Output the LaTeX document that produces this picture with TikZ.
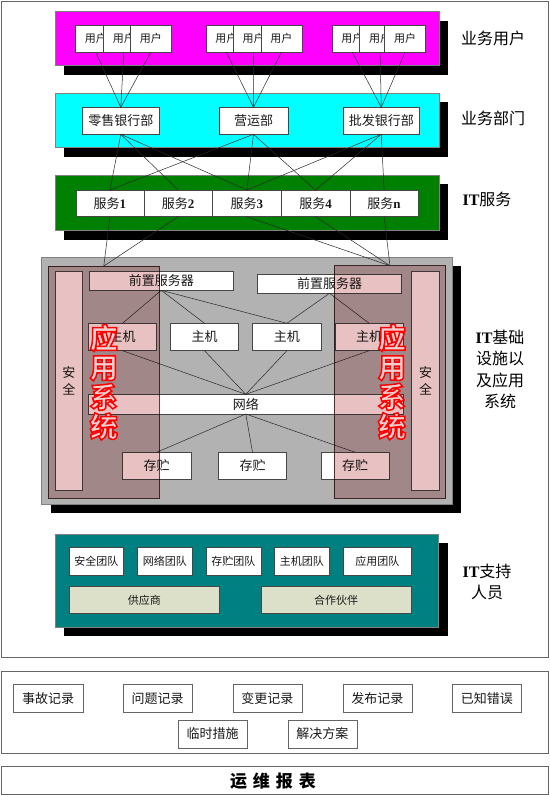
\documentclass[tikz,border=0pt]{standalone}
\usepackage{fontspec}
\setmainfont{Liberation Serif}
\newfontfamily\cjk{Noto Sans CJK SC}
\usetikzlibrary{calc}

\definecolor{bandmag}{RGB}{255,0,255}
\definecolor{bandcyan}{RGB}{0,255,255}
\definecolor{bandgreen}{RGB}{0,128,0}
\definecolor{infragray}{RGB}{178,178,178}
\definecolor{bandteal}{RGB}{0,128,128}
\definecolor{vendorfill}{RGB}{221,224,200}
\definecolor{roseveil}{RGB}{232,194,194}
\definecolor{veiledge}{RGB}{90,60,60}
\definecolor{boxedge}{RGB}{70,70,70}
\definecolor{bandedge}{RGB}{128,128,128}
\definecolor{framegray}{RGB}{100,100,100}
\definecolor{wire}{RGB}{40,40,40}

% box given by its corners: style, name, x1, y1, x2, y2, text
\newcommand{\rbox}[7]{\node[#1, minimum width={(#5)-(#3)}, minimum height={(#6)-(#4)}] (#2) at ({((#3)+(#5))/2},{((#4)+(#6))/2}) {#7};}
% coloured band with a black drop shadow: x1, y1, x2, y2, colour
\newcommand{\band}[5]{%
  \fill[black] ({#1+9},{#2+9}) rectangle ({#3+9},{#4+9});
  \filldraw[draw=bandedge, line width=0.6pt, fill=#5] (#1,#2) rectangle (#3,#4);}
% glyphs filled light pink and stroked with a red outline
\newcommand{\outlinedtext}[1]{\special{pdf:literal direct 2 Tr 1.5 w 1 0 0 RG 0.94 0.82 0.82 rg}#1\special{pdf:literal direct 0 Tr}}

\tikzset{
  wire/.style={draw=wire, line width=0.5pt},
  boxbase/.style={draw=boxedge, line width=0.6pt, fill=white, inner sep=0pt, outer sep=0pt,
    text=black!90, font=\cjk\fontsize{13}{15}\selectfont},
  ubox/.style={boxbase, font=\cjk\fontsize{11}{13}\selectfont},
  vbox/.style={boxbase, align=center, font=\cjk\fontsize{13}{17}\selectfont},
  tbox/.style={boxbase, font=\cjk\fontsize{11}{13}\selectfont},
  pbox/.style={tbox, fill=vendorfill},
  recbox/.style={boxbase, draw=framegray},
  sidelabel/.style={font=\cjk\fontsize{16}{21.5}\selectfont, align=center, inner sep=0pt},
  veil/.style={fill=roseveil, draw=veiledge, line width=0.7pt, inner sep=0pt, outer sep=0pt},
  appword/.style={font=\cjk\bfseries\fontsize{28}{29.5}\selectfont, align=center, inner sep=0pt, text=red},
  frame/.style={draw=framegray, line width=0.9pt},
}

\begin{document}
\begin{tikzpicture}[x=1pt,y=-1pt]
\useasboundingbox (0,0) rectangle (549,795);
\fill[white] (0,0) rectangle (549,795);

% outer frames
\draw[frame] (1,1) rectangle (548,657);
\draw[frame] (1,671) rectangle (548,753.3);
\draw[frame] (1,766.7) rectangle (548,794);

% ---------- business users ----------
\band{55}{11.7}{439}{65.7}{bandmag}
\rbox{ubox}{u1a}{75.3}{25}{116.3}{52.3}{用户}
\rbox{ubox}{u1b}{103.3}{25}{144.3}{52.3}{用户}
\rbox{ubox}{u1c}{130.3}{25}{171.3}{52.3}{用户}
\rbox{ubox}{u2a}{205.9}{25}{246.9}{52.3}{用户}
\rbox{ubox}{u2b}{233.2}{25}{274.2}{52.3}{用户}
\rbox{ubox}{u2c}{260.9}{25}{301.9}{52.3}{用户}
\rbox{ubox}{u3a}{331.9}{25}{372.9}{52.3}{用户}
\rbox{ubox}{u3b}{359.6}{25}{400.6}{52.3}{用户}
\rbox{ubox}{u3c}{384.5}{25}{425.5}{52.3}{用户}
\node[sidelabel] (lblUsers) at (493,38) {业务用户};

% ---------- departments ----------
\band{55}{93.3}{439}{147.7}{bandcyan}
\rbox{boxbase}{dRetail}{82.3}{107.3}{159.3}{134.3}{零售银行部}
\rbox{boxbase}{dOps}{219}{107.3}{288}{134.3}{营运部}
\rbox{boxbase}{dWhole}{343}{107.3}{419.5}{134.3}{批发银行部}
\node[sidelabel] (lblDept) at (493,118.3) {业务部门};

\foreach \u in {u1a,u1b,u1c} \draw[wire] (\u.south) -- (dRetail.north);
\foreach \u in {u2a,u2b,u2c} \draw[wire] (\u.south) -- (dOps.north);
\foreach \u in {u3a,u3b,u3c} \draw[wire] (\u.south) -- (dWhole.north);

% ---------- IT services ----------
\band{55}{175}{439}{230.7}{bandgreen}
\rbox{boxbase}{s1}{76}{190}{143.9}{216.7}{服务{\rmfamily\bfseries 1}}
\rbox{boxbase}{s2}{143.9}{190}{212.5}{216.7}{服务{\rmfamily\bfseries 2}}
\rbox{boxbase}{s3}{212.5}{190}{281.2}{216.7}{服务{\rmfamily\bfseries 3}}
\rbox{boxbase}{s4}{281.2}{190}{349.8}{216.7}{服务{\rmfamily\bfseries 4}}
\rbox{boxbase}{sn}{349.8}{190}{418.4}{216.7}{服务{\rmfamily\bfseries n}}
\node[sidelabel] (lblSvc) at (487,199.3) {{\rmfamily\bfseries IT}服务};

\foreach \s in {s1,s2,s3} \draw[wire] (dRetail.south) -- (\s.north);
\foreach \s in {s1,s3,s4} \draw[wire] (dOps.south) -- (\s.north);
\foreach \s in {s3,s4,sn} \draw[wire] (dWhole.south) -- (\s.north);

% ---------- infrastructure and applications ----------
\band{41.7}{257.3}{452.3}{504}{infragray}
\rbox{vbox}{secL}{55.3}{271.7}{82.3}{490}{安\\全}
\rbox{vbox}{secR}{411.7}{271.7}{439.3}{490}{安\\全}
\rbox{boxbase}{feL}{89.3}{271.7}{233.3}{290.3}{前置服务器}
\rbox{boxbase}{feR}{257.3}{274.3}{401.7}{293.3}{前置服务器}
\rbox{boxbase}{h1}{88.3}{323.3}{156.7}{350.7}{主机}
\rbox{boxbase}{h2}{170.3}{323.3}{238.7}{350.7}{主机}
\rbox{boxbase}{h3}{252.7}{323.3}{321}{350.7}{主机}
\rbox{boxbase}{h4}{335}{323.3}{403.3}{350.7}{主机}
\rbox{boxbase}{net}{88.3}{394.3}{403.3}{414}{网络}
\rbox{boxbase}{st1}{122.3}{452.3}{191}{479.3}{存贮}
\rbox{boxbase}{st2}{218.3}{452.3}{286.7}{479.3}{存贮}
\rbox{boxbase}{st3}{321}{452.3}{389.3}{479.3}{存贮}
\node[sidelabel] (lblInfra) at (500,369.3) {{\rmfamily\bfseries IT}基础\\设施以\\及应用\\系统};

\foreach \h in {h1,h2,h3} \draw[wire] (feL.south) -- (\h.north);
\foreach \h in {h3,h4} \draw[wire] (feR.south) -- (\h.north);
\foreach \h in {h1,h2,h3,h4} \draw[wire] (\h.south) -- (net.north);
\foreach \t in {st1,st2,st3} \draw[wire] (net.south) -- (\t.north);

% application system veils
\begin{scope}[blend mode=multiply]
\rbox{veil}{ovL}{48.3}{266}{159.3}{498.3}{}
\rbox{veil}{ovR}{334.3}{265.7}{445.7}{498.3}{}
\end{scope}

\foreach \s in {s1,s2} \draw[wire] (\s.south) -- (ovL.north);
\foreach \s in {s3,s4,sn} \draw[wire] (\s.south) -- (ovR.north);

% ---------- IT support staff ----------
\band{55}{534}{438.7}{627.3}{bandteal}
\rbox{tbox}{tSec}{69}{547.7}{123.6}{575}{安全团队}
\rbox{tbox}{tNet}{137.3}{547.7}{192.2}{575}{网络团队}
\rbox{tbox}{tSto}{205.9}{547.7}{260.9}{575}{存贮团队}
\rbox{tbox}{tHost}{274.5}{547.7}{329.1}{575}{主机团队}
\rbox{tbox}{tApp}{343.1}{547.7}{411.4}{575}{应用团队}
\rbox{pbox}{vSup}{69}{586.7}{219.5}{613.3}{供应商}
\rbox{pbox}{vPar}{260.9}{586.7}{411.4}{613.3}{合作伙伴}
\node[sidelabel] (lblStaff) at (487,581.7) {{\rmfamily\bfseries IT}支持\\人员};

% ---------- operation records ----------
\rbox{recbox}{r1}{13.3}{684.3}{83}{712.3}{事故记录}
\rbox{recbox}{r2}{123.2}{684.3}{192.2}{712.3}{问题记录}
\rbox{recbox}{r3}{232.8}{684.3}{301.8}{712.3}{变更记录}
\rbox{recbox}{r4}{342.8}{684.3}{411.8}{712.3}{发布记录}
\rbox{recbox}{r5}{452.4}{684.3}{521.4}{712.3}{已知错误}
\rbox{recbox}{r6}{178.2}{720}{247.2}{748}{临时措施}
\rbox{recbox}{r7}{287.8}{720}{356.8}{748}{解决方案}

% ---------- report title ----------
\node[font=\cjk\bfseries\fontsize{17}{19}\selectfont, inner sep=0pt] (report) at (273,780.7)
  {运\hspace{6pt}维\hspace{6pt}报\hspace{6pt}表};

% hollow red captions on the application veils (drawn last)
\node[appword] (appL) at (ovL.center) {\outlinedtext{应\\用\\系\\统}};
\node[appword] (appR) at ($(ovR.center)+(2,0)$) {\outlinedtext{应\\用\\系\\统}};
\end{tikzpicture}
\end{document}
